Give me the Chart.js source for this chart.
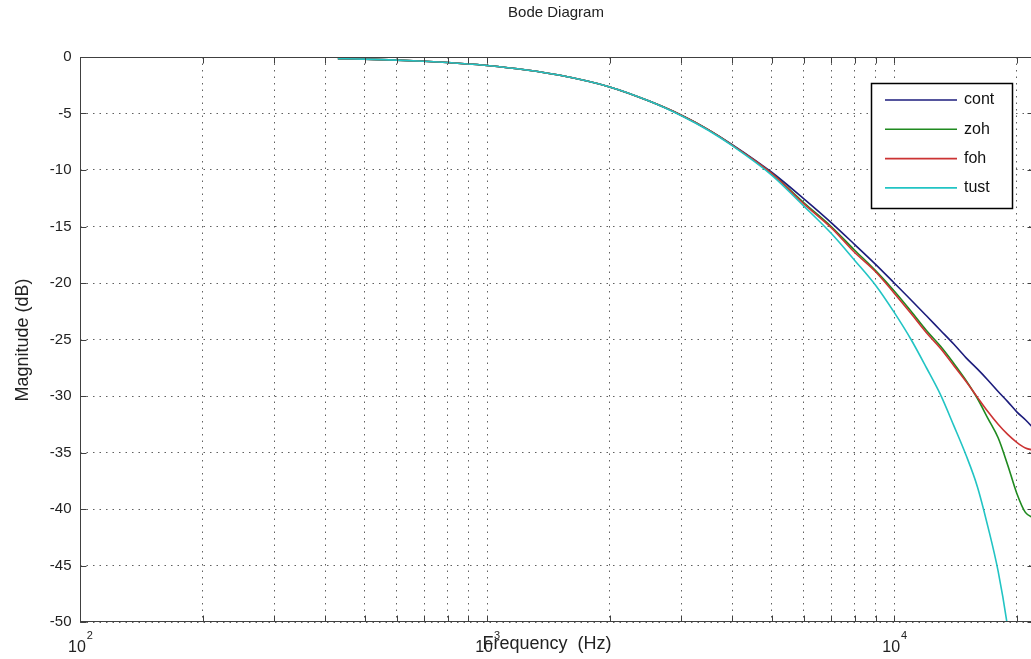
<!DOCTYPE html>
<html>
<head>
<meta charset="utf-8">
<title>Bode Diagram</title>
<script src="https://cdn.jsdelivr.net/npm/chart.js@4/dist/chart.umd.min.js"></script>
<style>
html, body { margin: 0; padding: 0; background: #fff; overflow: hidden; }
#wrap { width: 1031px; height: 659px; overflow: hidden; }
</style>
</head>
<body>
<div id="wrap"><canvas id="bode" width="1035" height="659"></canvas></div>
<script>
// frequencies (Hz) shared by all four responses
var freq = [430, 500, 600, 700, 800, 900, 1000, 1250, 1500, 2000, 2500, 3000, 3500, 4000,
	5000, 6000, 7000, 8000, 9000, 10000, 11000, 12000, 13000, 14000, 15000, 16000,
	17000, 18000, 19000, 20000, 21000, 22050];

// magnitudes (dB)
var cont = [-0.14, -0.19, -0.28, -0.38, -0.49, -0.62, -0.75, -1.15, -1.6, -2.65, -3.9, -5.15, -6.45, -7.75,
	-10.2, -12.55, -14.65, -16.6, -18.35, -20.0, -21.5, -22.9, -24.2, -25.4, -26.6, -27.6,
	-28.6, -29.6, -30.5, -31.4, -32.1, -32.9];
var zoh = [-0.14, -0.19, -0.28, -0.38, -0.49, -0.62, -0.75, -1.15, -1.6, -2.65, -3.9, -5.15, -6.45, -7.8,
	-10.3, -12.9, -15.0, -17.1, -18.9, -20.7, -22.5, -24.2, -25.6, -27.1, -28.6, -30.2,
	-32.0, -33.7, -36.1, -38.6, -40.3, -40.8];
var foh = [-0.14, -0.19, -0.28, -0.38, -0.49, -0.62, -0.75, -1.15, -1.6, -2.65, -3.9, -5.15, -6.45, -7.8,
	-10.3, -13.0, -15.1, -17.3, -19.0, -20.9, -22.7, -24.4, -25.8, -27.3, -28.7, -30.1,
	-31.4, -32.5, -33.4, -34.1, -34.6, -34.8];
var tust = [-0.14, -0.19, -0.28, -0.38, -0.49, -0.62, -0.75, -1.15, -1.6, -2.65, -3.9, -5.2, -6.5, -7.85,
	-10.45, -13.2, -15.6, -18.0, -20.2, -22.6, -25.0, -27.5, -29.9, -32.6, -35.2, -38.0,
	-41.6, -45.5, -50.5, -57.0, -68.0, -90.0];

var names  = ['cont', 'zoh', 'foh', 'tust'];
var colors = ['#1c1c7c', '#1f8a1f', '#cc3333', '#22c4c4'];
var yTicks = [0, -5, -10, -15, -20, -25, -30, -35, -40, -45, -50];
var xDecades = [100, 1000, 10000];
var xMin = 100, xMax = 22050;

// 1..9 x 10^n grid positions
var xGrid = [];
xDecades.forEach(function(d) {
	for (var k = 1; k <= 9; k++) if (d * k <= xMax) xGrid.push(d * k);
});

function pts(vals) {
	return freq.map(function(f, i) { return { x: f, y: vals[i] }; });
}

var FONT = '"Liberation Sans", Arial, sans-serif';

var matlabAxes = {
	id: 'matlabAxes',
	beforeDraw: function(chart) {
		var c = chart.ctx;
		c.save();
		c.fillStyle = '#fff';
		c.fillRect(0, 0, chart.width, chart.height);
		c.restore();
	},
	afterDraw: function(chart) {
		var c = chart.ctx, a = chart.chartArea;
		var xs = chart.scales.x, ys = chart.scales.y;
		var L = Math.round(a.left) + 0.5, R = Math.round(a.right) - 0.5;
		var T = Math.round(a.top) + 0.5, B = Math.round(a.bottom) - 0.5;
		c.save();

		// axes box + inward ticks
		c.strokeStyle = '#404040';
		c.lineWidth = 1;
		c.strokeRect(L, T, R - L, B - T);
		c.beginPath();
		xGrid.forEach(function(v) {
			var px = Math.round(xs.getPixelForValue(v)) + 0.5;
			c.moveTo(px, B); c.lineTo(px, B - 6);
			c.moveTo(px, T); c.lineTo(px, T + 6);
		});
		yTicks.forEach(function(v) {
			var py = Math.round(ys.getPixelForValue(v)) + 0.5;
			c.moveTo(L, py); c.lineTo(L + 6, py);
			c.moveTo(R, py); c.lineTo(R - 6, py);
		});
		c.stroke();

		// y tick labels
		c.fillStyle = '#222';
		c.font = '15px ' + FONT;
		c.textAlign = 'right';
		c.textBaseline = 'middle';
		yTicks.forEach(function(v) {
			c.fillText(String(v), L - 9, ys.getPixelForValue(v));
		});

		// x tick labels 10^n
		c.textAlign = 'left';
		xDecades.forEach(function(v) {
			var px = xs.getPixelForValue(v);
			var e = String(Math.round(Math.log10(v)));
			c.font = '16px ' + FONT;
			var w1 = c.measureText('10').width;
			c.font = '11px ' + FONT;
			var w2 = c.measureText(e).width;
			var x0 = px - (w1 + w2) / 2;
			c.font = '16px ' + FONT;
			c.fillText('10', x0, 648);
			c.font = '11px ' + FONT;
			c.fillText(e, x0 + w1 + 1, 636);
		});

		// titles
		c.textAlign = 'center';
		c.font = '15px ' + FONT;
		c.fillText('Bode Diagram', 556, 13);
		c.font = '18px ' + FONT;
		c.fillText('Frequency  (Hz)', 547, 644);
		c.save();
		c.translate(23, 340);
		c.rotate(-Math.PI / 2);
		c.fillText('Magnitude (dB)', 0, 0);
		c.restore();

		// legend
		var lx = 871.5, ly = 83.5, lw = 141, lh = 125;
		c.fillStyle = '#fff';
		c.fillRect(lx, ly, lw, lh);
		c.strokeStyle = '#000';
		c.lineWidth = 1.5;
		c.strokeRect(lx, ly, lw, lh);
		c.textAlign = 'left';
		c.font = '16px ' + FONT;
		names.forEach(function(n, i) {
			var yy = 100 + i * 29.3;
			c.strokeStyle = colors[i];
			c.lineWidth = 1.6;
			c.beginPath();
			c.moveTo(885, yy); c.lineTo(957, yy);
			c.stroke();
			c.fillStyle = '#111';
			c.fillText(n, 964, yy);
		});
		c.restore();
	}
};

var series = [cont, zoh, foh, tust];
var datasets = series.map(function(s, i) {
	return {
		label: names[i],
		data: pts(s),
		borderColor: colors[i],
		borderWidth: 1.6,
		pointRadius: 0,
		fill: false,
		cubicInterpolationMode: 'monotone',
		order: 3 - i
	};
});

var gridOpts = { color: '#606060', lineWidth: 1, drawTicks: false };
var borderOpts = { display: false, dash: [1.5, 5] };

var chart = new Chart(document.getElementById('bode').getContext('2d'), {
	type: 'line',
	data: { datasets: datasets },
	options: {
		responsive: false,
		animation: false,
		layout: { padding: { left: 80, top: 57, right: 1, bottom: 37 } },
		plugins: { legend: { display: false }, title: { display: false }, tooltip: { enabled: false } },
		scales: {
			x: {
				type: 'logarithmic', min: xMin, max: xMax,
				afterBuildTicks: function(s) { s.ticks = xGrid.map(function(v) { return { value: v }; }); },
				ticks: { display: false },
				grid: gridOpts, border: borderOpts
			},
			y: {
				type: 'linear', min: -50, max: 0,
				afterBuildTicks: function(s) { s.ticks = yTicks.map(function(v) { return { value: v }; }); },
				ticks: { display: false },
				grid: gridOpts, border: borderOpts
			}
		}
	},
	plugins: [matlabAxes]
});
</script>
</body>
</html>
